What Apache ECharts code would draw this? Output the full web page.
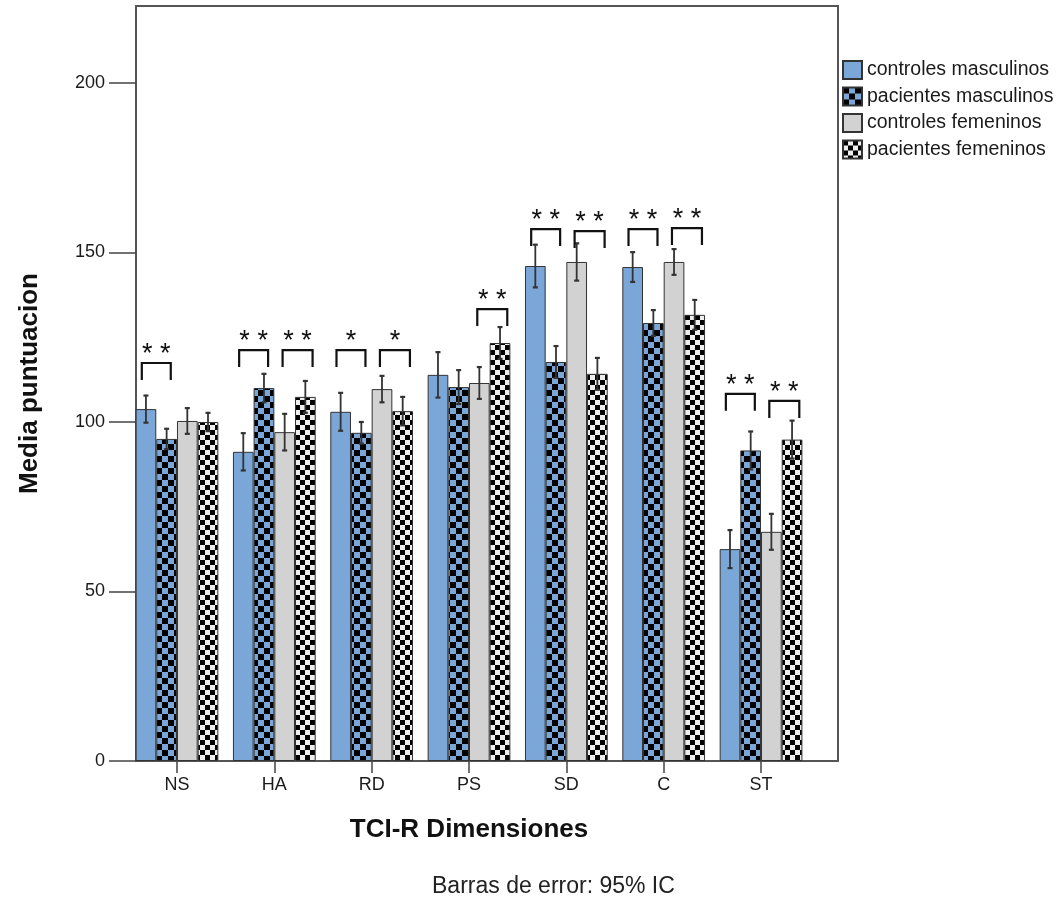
<!DOCTYPE html>
<html>
<head>
<meta charset="utf-8">
<script src="https://cdn.jsdelivr.net/npm/echarts@6/dist/echarts.min.js"></script>
<style>
html,body{margin:0;padding:0;background:#fff;}
#chart{width:1060px;height:899px;}
</style>
</head>
<body>
<div id="chart"></div>
<script>
// ---------- data ----------
const categories = ['NS', 'HA', 'RD', 'PS', 'SD', 'C', 'ST'];
const seriesNames = ['controles masculinos', 'pacientes masculinos', 'controles femeninos', 'pacientes femeninos'];
const controlesMasculinos = [103.8, 91.2, 103.0, 113.9, 146.0, 145.7, 62.5];
const pacientesMasculinos = [95.0, 110.0, 96.8, 110.3, 117.7, 129.2, 91.6];
const controlesFemeninos  = [100.3, 97.0, 109.7, 111.5, 147.2, 147.2, 67.6];
const pacientesFemeninos  = [100.0, 107.4, 103.2, 123.3, 114.2, 131.6, 94.8];
// 95% CI half-widths
const ciControlesMasculinos = [4.0, 5.5, 5.6, 6.7, 6.3, 4.4, 5.6];
const ciPacientesMasculinos = [3.0, 4.2, 3.2, 5.0, 4.7, 3.8, 5.6];
const ciControlesFemeninos  = [3.8, 5.4, 3.9, 4.7, 5.5, 3.8, 5.3];
const ciPacientesFemeninos  = [2.7, 4.7, 4.2, 4.7, 4.7, 4.4, 5.6];
// significance brackets: [category index, pair (0 = masculinos, 1 = femeninos), bracket top value, label]
const brackets = [
  [0, 0, 117.4, '* *'],
  [1, 0, 121.2, '* *'], [1, 1, 121.2, '* *'],
  [2, 0, 121.2, '*'],   [2, 1, 121.2, '*'],
  [3, 1, 133.3, '* *'],
  [4, 0, 156.9, '* *'], [4, 1, 156.3, '* *'],
  [5, 0, 156.9, '* *'], [5, 1, 157.2, '* *'],
  [6, 0, 108.3, '* *'], [6, 1, 106.2, '* *']
];
const yTicks = [0, 50, 100, 150, 200];
const footnote = 'Barras de error: 95% IC';
const xTitle = 'TCI-R Dimensiones';
const yTitle = 'Media puntuacion';

// ---------- styles ----------
const FONT = 'Liberation Sans, Arial, sans-serif';
const BLUE = '#7aa6d8';
const GRAY = '#d2d2d2';
function checker(c1, c2, s) {
  const cv = document.createElement('canvas');
  cv.width = s * 2; cv.height = s * 2;
  const g = cv.getContext('2d');
  g.fillStyle = c1; g.fillRect(0, 0, s * 2, s * 2);
  g.fillStyle = c2; g.fillRect(0, 0, s, s); g.fillRect(s, s, s, s);
  return { image: cv, repeat: 'repeat' };
}
const fills = [BLUE, checker(BLUE, '#000000', 6), GRAY, checker('#eeeeee', '#000000', 5)];
const values = [controlesMasculinos, pacientesMasculinos, controlesFemeninos, pacientesFemeninos];
const cis = [ciControlesMasculinos, ciPacientesMasculinos, ciControlesFemeninos, ciPacientesFemeninos];
const GAP = 0.15;
const YMAX = 222.7;

const chart = echarts.init(document.getElementById('chart'), null, { renderer: 'canvas' });

const series = [];
values.forEach((vals, k) => {
  series.push({
    name: seriesNames[k], type: 'bar', xAxisIndex: 1, yAxisIndex: 1,
    data: vals, barGap: 0, barCategoryGap: (GAP * 100) + '%',
    itemStyle: { color: fills[k], borderColor: '#333', borderWidth: 1 },
    emphasis: { disabled: true }, z: 2
  });
});
values.forEach((vals, k) => {
  series.push({
    name: 'ci' + k, type: 'custom', xAxisIndex: 1, yAxisIndex: 1, z: 5,
    data: vals.map((v, i) => [i, v - cis[k][i], v + cis[k][i]]),
    renderItem: function (params, api) {
      const lo = api.coord([api.value(0), api.value(1)]);
      const hi = api.coord([api.value(0), api.value(2)]);
      const band = api.size([1, 0])[0];
      const bw = band * (1 - GAP) / 4;
      const x = lo[0] + (k - 1.5) * bw;
      const c = '#333';
      return { type: 'group', children: [
        { type: 'line', shape: { x1: x, y1: lo[1], x2: x, y2: hi[1] }, style: { stroke: c, lineWidth: 1.8 } },
        { type: 'line', shape: { x1: x - 2.5, y1: lo[1], x2: x + 2.5, y2: lo[1] }, style: { stroke: c, lineWidth: 2.2 } },
        { type: 'line', shape: { x1: x - 2.5, y1: hi[1], x2: x + 2.5, y2: hi[1] }, style: { stroke: c, lineWidth: 2.2 } }
      ]};
    }
  });
});
series.push({
  name: 'sig', type: 'custom', xAxisIndex: 1, yAxisIndex: 1, z: 6,
  data: brackets.map(b => [b[0], b[1], b[2], b[3]]),
  renderItem: function (params, api) {
    const b = brackets[params.dataIndex];
    const p = api.coord([b[0], b[2]]);
    const band = api.size([1, 0])[0];
    const bw = band * (1 - GAP) / 4;
    const xL = p[0] + (b[1] === 0 ? -1.7 : 0.4) * bw;
    const xR = p[0] + (b[1] === 0 ? -0.3 : 1.85) * bw;
    const y = p[1];
    return { type: 'group', children: [
      { type: 'polyline', shape: { points: [[xL, y + 17], [xL, y], [xR, y], [xR, y + 17]] },
        style: { stroke: '#111', lineWidth: 2.2, fill: null } },
      { type: 'text', style: { x: (xL + xR) / 2, y: y + 5, text: b[3], align: 'center', verticalAlign: 'bottom',
        font: '27px ' + FONT, fill: '#111' } }
    ]};
  }
});

chart.setOption({
  animation: false,
  backgroundColor: '#fff',
  textStyle: { fontFamily: FONT },
  grid: [
    { left: 136, right: 1060 - 838, top: 6, bottom: 899 - 761, show: true, borderColor: '#555', borderWidth: 2, backgroundColor: 'transparent' },
    { left: 128.3, right: 1060 - 809.7, top: 6, bottom: 899 - 761 }
  ],
  legend: {
    orient: 'vertical', left: 842, top: 60, padding: 0, itemWidth: 19, itemHeight: 18, itemGap: 6.5,
    icon: 'rect', data: seriesNames, selectedMode: false,
    textStyle: { fontSize: 19.5, color: '#1a1a1a', fontFamily: FONT }
  },
  xAxis: [
    { type: 'category', gridIndex: 0, data: categories, show: false },
    { type: 'category', gridIndex: 1, data: categories,
      axisLine: { show: false },
      axisTick: { show: true, alignWithLabel: true, length: 12, lineStyle: { color: '#444', width: 1.5 } },
      axisLabel: { fontSize: 18, color: '#1a1a1a', margin: 15 },
      name: xTitle, nameLocation: 'middle', nameGap: 56,
      nameTextStyle: { fontSize: 26, fontWeight: 'bold', color: '#111' } }
  ],
  yAxis: [
    { type: 'value', gridIndex: 0, min: 0, max: YMAX,
      splitLine: { show: false },
      axisLine: { show: true, lineStyle: { color: '#555', width: 2 } },
      axisTick: { show: true, length: 27, customValues: yTicks, lineStyle: { color: '#444', width: 1.5 } },
      axisLabel: { fontSize: 18, color: '#1a1a1a', margin: 31, customValues: yTicks },
      name: yTitle, nameLocation: 'middle', nameGap: 93, nameRotate: 90,
      nameTextStyle: { fontSize: 26, fontWeight: 'bold', color: '#111' } },
    { type: 'value', gridIndex: 1, min: 0, max: YMAX, show: false }
  ],
  graphic: [
    { type: 'text', left: 432, top: 875, style: { text: footnote, font: '23px ' + FONT, fill: '#222' } }
  ],
  series: series
});
</script>
</body>
</html>
